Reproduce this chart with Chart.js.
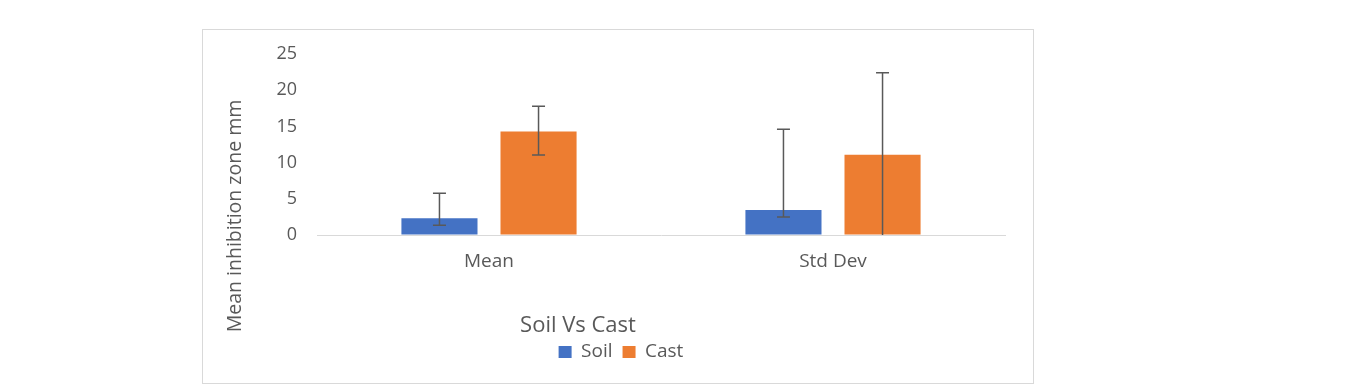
<!DOCTYPE html>
<html>
<head>
	<meta charset="UTF-8">
	<title>Soil Vs Cast</title>
	<script src="https://cdn.jsdelivr.net/npm/chart.js"></script>
	<style>
	body{margin:0; background:#fff;}
	#box{position:absolute; left:202px; top:29px; width:830px; height:353px; border:1px solid #d9d9d9;}
	</style>
</head>
<body>
	<div id="box">
	  <canvas id="myChart" width="830" height="353"></canvas>
	</div>
	<script>
	// categories and series
	var categories = ['Mean', 'Std Dev'];
	var soilValues = [2.3, 3.45];
	var castValues = [14.3, 11.1];
	// error bar ends (low / high)
	var soilErrLow = [1.35, 2.5];
	var soilErrHigh = [5.75, 14.6];
	var castErrLow = [11.05, 0];
	var castErrHigh = [17.8, 22.4];
	var yTicks = [0, 5, 10, 15, 20, 25];

	var xTitle = 'Soil Vs Cast';
	var yTitle = 'Mean inhibition zone mm';
	var textColor = '#595959';
	var fontName = "'Open Sans', sans-serif";

	// error bars drawn from the dataset arrays
	var errorBars = {
		id: 'errorBars',
		afterDatasetsDraw: function(chart){
			var ctx = chart.ctx;
			var y = chart.scales.y;
			ctx.save();
			ctx.strokeStyle = '#595959';
			ctx.lineWidth = 1.5;
			chart.data.datasets.forEach(function(ds, di){
				var meta = chart.getDatasetMeta(di);
				meta.data.forEach(function(bar, i){
					var x = bar.x;
					var yLo = y.getPixelForValue(ds.errLow[i]);
					var yHi = y.getPixelForValue(ds.errHigh[i]);
					ctx.beginPath();
					ctx.moveTo(x, yLo); ctx.lineTo(x, yHi);
					ctx.moveTo(x - 6.5, yHi); ctx.lineTo(x + 6.5, yHi);
					if (ds.errLow[i] > 0) {
						ctx.moveTo(x - 6.5, yLo); ctx.lineTo(x + 6.5, yLo);
					}
					ctx.stroke();
				});
			});
			ctx.restore();
		}
	};

	// axis titles placed like the original
	var axisTitles = {
		id: 'axisTitles',
		afterDraw: function(chart){
			var ctx = chart.ctx;
			ctx.save();
			ctx.fillStyle = textColor;
			ctx.textAlign = 'center';
			ctx.textBaseline = 'middle';
			ctx.font = '22px ' + fontName;
			ctx.fillText(xTitle, 375, 296);
			ctx.translate(32, 186);
			ctx.rotate(-Math.PI / 2);
			ctx.font = '19.5px ' + fontName;
			ctx.fillText(yTitle, 0, 0);
			ctx.restore();
		}
	};

	new Chart(document.getElementById('myChart'), {
		type: 'bar',
		data: {
			labels: categories,
			datasets: [{
				label: 'Soil',
				data: soilValues,
				errLow: soilErrLow,
				errHigh: soilErrHigh,
				backgroundColor: '#4472C4',
				borderWidth: 0,
				categoryPercentage: 0.576,
				barPercentage: 0.768
			}, {
				label: 'Cast',
				data: castValues,
				errLow: castErrLow,
				errHigh: castErrHigh,
				backgroundColor: '#ED7D31',
				borderWidth: 0,
				categoryPercentage: 0.576,
				barPercentage: 0.768
			}]
		},
		options: {
			responsive: false,
			animation: false,
			layout: { padding: { top: 24, bottom: 11.5, left: 34, right: 28 } },
			plugins: {
				tooltip: { enabled: false },
				legend: {
					position: 'bottom',
					labels: {
						color: textColor,
						font: { family: fontName, size: 19 },
						boxWidth: 13,
						boxHeight: 12,
						padding: 10
					}
				}
			},
			scales: {
				x: {
					grid: { display: false },
					border: { display: true, color: '#d9d9d9', width: 1 },
					ticks: { color: textColor, font: { family: fontName, size: 19 }, padding: 7 },
					afterFit: function(scale){ scale.height = 97.5; }
				},
				y: {
					min: 0,
					max: 25,
					afterBuildTicks: function(scale){
						scale.ticks = yTicks.map(function(v){ return { value: v }; });
					},
					// transparent tick marks keep the labels away from the axis
					grid: { drawOnChartArea: false, drawTicks: true, tickLength: 20, tickColor: 'rgba(0,0,0,0)' },
					border: { display: false },
					ticks: { color: textColor, font: { family: fontName, size: 18 }, padding: 0 },
					afterFit: function(scale){ scale.width = 80; }
				}
			}
		},
		plugins: [errorBars, axisTitles]
	});
	</script>
</body>
</html>
